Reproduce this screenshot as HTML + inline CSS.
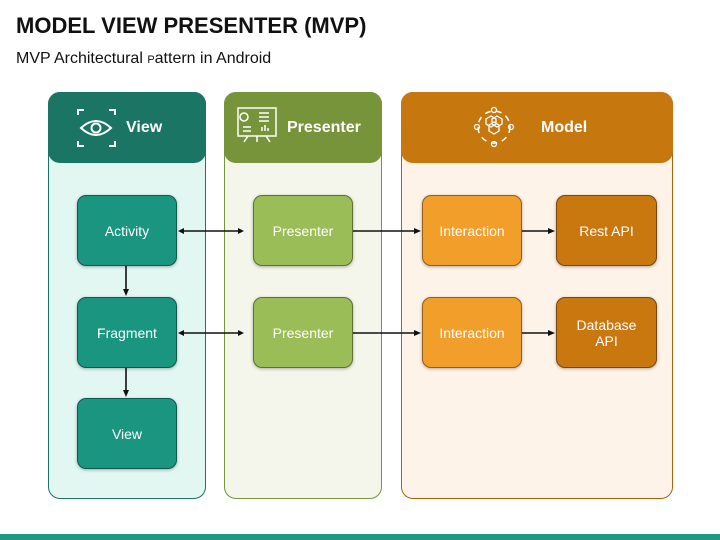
<!DOCTYPE html>
<html><head><style>
body{margin:0;width:720px;height:540px;background:#fff;position:relative;overflow:hidden;font-family:"Liberation Sans",sans-serif}
.a{position:absolute;box-sizing:border-box}
.p{border-radius:12px;border:1px solid}
.h{border-radius:12px;color:#fff;font-weight:bold;font-size:16px;display:flex;align-items:center}
.b{border-radius:9px;color:#fff;font-size:14px;display:flex;align-items:center;justify-content:center;text-align:center;box-shadow:0 1px 3px rgba(0,0,0,.3);border:1px solid rgba(0,0,0,.4)}
</style></head><body>
<div class="a" style="left:16px;top:13px;font-size:22px;font-weight:bold;color:#111">MODEL VIEW PRESENTER (MVP)</div>
<div class="a" style="left:16px;top:50px;font-size:16px;color:#111">MVP Architectural <span style="font-size:11px">P</span>attern in Android</div>

<div class="a p" style="left:48px;top:92px;width:158px;height:407px;background:#e2f7f2;border-color:#1a7565"></div>
<div class="a h" style="left:48px;top:92px;width:158px;height:71px;background:#1a7565;padding-left:78px">View</div>
<div class="a p" style="left:224px;top:92px;width:158px;height:407px;background:#f4f6eb;border-color:#77943a"></div>
<div class="a h" style="left:224px;top:92px;width:158px;height:71px;background:#77943a;padding-left:63px">Presenter</div>
<div class="a p" style="left:401px;top:92px;width:272px;height:407px;background:#fdf3e8;border-color:#a8660c"></div>
<div class="a h" style="left:401px;top:92px;width:272px;height:71px;background:#c6780e;padding-left:140px">Model</div>

<svg class="a" style="left:0;top:0" width="720" height="540">
<g stroke="#fff" stroke-width="2" fill="none">
<path d="M78 115v-5h6M109 110h6v5M78 141v5h6M109 146h6v-5"/>
<path d="M81 128q15-14 30 0q-15 14-30 0z"/><circle cx="96" cy="128" r="4.5"/>
<rect x="238" y="108" width="38" height="28" stroke-width="1.5"/>
<path d="M244 142l4-6M270 142l-4-6M257 136v6" stroke-width="1.5"/>
<circle cx="244" cy="117" r="4" stroke-width="1.5"/>
<path d="M259 113h10M259 117h10M259 121h10M243 127h8M243 131h8M262 131v-4M265 131v-6M268 131v-3" stroke-width="1.5"/>
<circle cx="494" cy="127" r="16" stroke-width="1.5" stroke-dasharray="6 5"/>
<circle cx="494" cy="110" r="2.5" stroke-width="1.3"/><circle cx="494" cy="144" r="2.5" stroke-width="1.3"/>
<circle cx="477" cy="127" r="2.5" stroke-width="1.3"/><circle cx="511" cy="127" r="2.5" stroke-width="1.3"/>
<path d="M486 119l5-3 5 3v5l-5 3-5-3zM492 119l5-3 5 3v5l-5 3-5-3zM489 125l5-3 5 3v6l-5 3-5-3z" stroke-width="1.3"/>
</g>
<g fill="#111" stroke="#111" stroke-width="1.6">
<line x1="182" y1="231" x2="238" y2="231"/><path d="M178 231l6-3v6z M244 231l-6-3v6z" stroke="none"/>
<line x1="352" y1="231" x2="414" y2="231"/><path d="M421 231l-7-3v6z" stroke="none"/>
<line x1="521" y1="231" x2="548" y2="231"/><path d="M555 231l-7-3v6z" stroke="none"/>
<line x1="182" y1="333" x2="238" y2="333"/><path d="M178 333l6-3v6z M244 333l-6-3v6z" stroke="none"/>
<line x1="352" y1="333" x2="414" y2="333"/><path d="M421 333l-7-3v6z" stroke="none"/>
<line x1="521" y1="333" x2="548" y2="333"/><path d="M555 333l-7-3v6z" stroke="none"/>
<line x1="126" y1="266" x2="126" y2="289"/><path d="M126 296l-3-7h6z" stroke="none"/>
<line x1="126" y1="368" x2="126" y2="390"/><path d="M126 397l-3-7h6z" stroke="none"/>
</g>
</svg>

<div class="a b" style="left:77px;top:195px;width:100px;height:71px;background:#1a957f">Activity</div>
<div class="a b" style="left:77px;top:297px;width:100px;height:71px;background:#1a957f">Fragment</div>
<div class="a b" style="left:77px;top:398px;width:100px;height:71px;background:#1a957f">View</div>
<div class="a b" style="left:253px;top:195px;width:100px;height:71px;background:#9bbd58">Presenter</div>
<div class="a b" style="left:253px;top:297px;width:100px;height:71px;background:#9bbd58">Presenter</div>
<div class="a b" style="left:422px;top:195px;width:100px;height:71px;background:#f29e2a">Interaction</div>
<div class="a b" style="left:422px;top:297px;width:100px;height:71px;background:#f29e2a">Interaction</div>
<div class="a b" style="left:556px;top:195px;width:101px;height:71px;background:#c9770f">Rest API</div>
<div class="a b" style="left:556px;top:297px;width:101px;height:71px;background:#c9770f">Database<br>API</div>
<div class="a" style="left:0;top:534px;width:720px;height:6px;background:#1f9a82"></div>
</body></html>
